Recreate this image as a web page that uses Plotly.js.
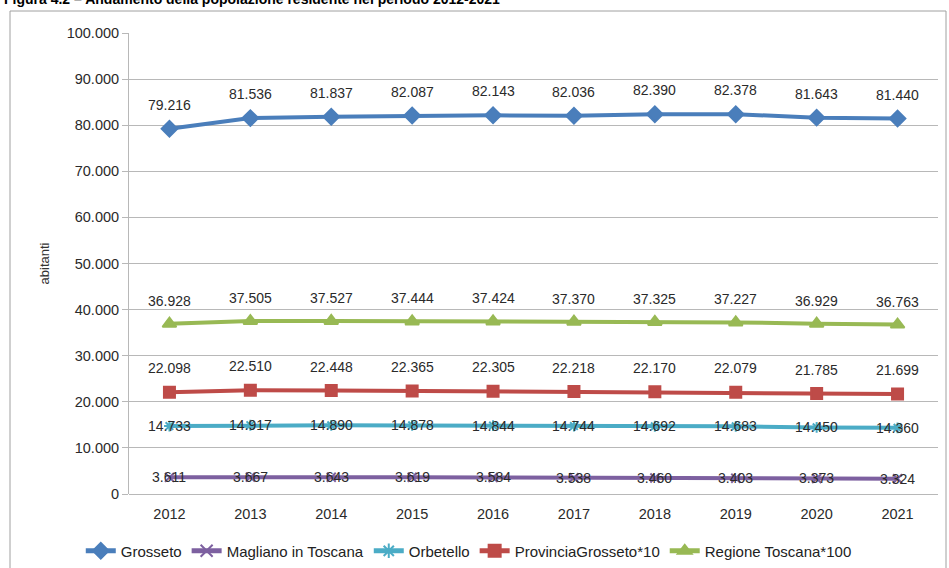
<!DOCTYPE html>
<html><head><meta charset="utf-8">
<script src="https://cdn.plot.ly/plotly-3.0.1.min.js"></script>
<style>html,body{margin:0;padding:0;background:#fff;}#chart{width:949px;height:568px;}</style>
</head><body><div id="chart"></div>
<script>
const years = ['2012','2013','2014','2015','2016','2017','2018','2019','2020','2021'];
const grosseto = [79216,81536,81837,82087,82143,82036,82390,82378,81643,81440];
const magliano = [3611,3667,3643,3619,3584,3538,3460,3403,3373,3324];
const orbetello = [14733,14917,14890,14878,14844,14744,14692,14683,14450,14360];
const provincia = [22098,22510,22448,22365,22305,22218,22170,22079,21785,21699];
const regione = [36928,37505,37527,37444,37424,37370,37325,37227,36929,36763];
const yTicks = [0,10000,20000,30000,40000,50000,60000,70000,80000,90000,100000];

function fmt(v){ return v.toString().replace(/\B(?=(\d{3})+(?!\d))/g,'.'); }

const series = [
  {name:'Grosseto', y:grosseto, color:'#4A7EBB', symbol:'diamond', size:12, width:4, shift:24},
  {name:'Magliano in Toscana', y:magliano, color:'#7D60A0', symbol:'x-thin-open', size:9, width:4, shift:0},
  {name:'Orbetello', y:orbetello, color:'#4BACC6', symbol:'asterisk-open', size:9, width:4, shift:0},
  {name:'ProvinciaGrosseto*10', y:provincia, color:'#BE4B48', symbol:'square', size:11, width:4, shift:24},
  {name:'Regione Toscana*100', y:regione, color:'#98B954', symbol:'triangle-up', size:12, width:4, shift:23}
];

const traces = series.map(s => ({
  type:'scatter', mode:'lines+markers', name:s.name, x:years, y:s.y,
  line:{color:s.color, width:s.width},
  marker:{color:s.color, symbol:s.symbol, size:s.size, line:{color:s.color, width:2}}
}));

const annotations = [];
series.forEach(s => {
  s.y.forEach((v,i) => {
    annotations.push({x:i, y:v, xref:'x', yref:'y', text:fmt(v), showarrow:false,
      yshift:s.shift, font:{family:'Liberation Sans, Arial, sans-serif', size:14, color:'#2a2a2a'}});
  });
});
annotations.push({xref:'paper', yref:'paper', x:-127/809, y:(494+1)/461, xanchor:'left', yanchor:'middle',
  text:'<b>Figura 4.2 – Andamento della popolazione residente nel periodo 2012-2021</b>', showarrow:false,
  font:{family:'Liberation Sans, Arial, sans-serif', size:14, color:'#000'}});

const layout = {
  width:949, height:568,
  margin:{l:129, r:11, t:33, b:74, autoexpand:false},
  paper_bgcolor:'#fff', plot_bgcolor:'#fff',
  font:{family:'Liberation Sans, Arial, sans-serif', size:13, color:'#333'},
  showlegend:true,
  legend:{orientation:'h', x:0.42, xanchor:'center', y:-0.088, yanchor:'top', itemsizing:'constant',
    font:{size:15, color:'#222'}, itemwidth:30, tracegroupgap:0},
  xaxis:{type:'category', range:[-0.5, years.length-0.5], showgrid:false, zeroline:false, showline:false, ticks:'',
    automargin:false, ticklabelstandoff:9, tickfont:{size:14.5, color:'#2a2a2a'}, fixedrange:true},
  yaxis:{range:[0,100000], tickvals:yTicks, ticktext:yTicks.map(fmt), showgrid:true, automargin:false,
    gridcolor:'#b8b8b8', gridwidth:1, showline:true, linecolor:'#b8b8b8', ticks:'outside', ticklen:6,
    tickcolor:'#b8b8b8', zeroline:true, zerolinecolor:'#b8b8b8', tickfont:{size:14.5, color:'#2a2a2a'},
    title:{text:'abitanti', font:{size:13, color:'#333'}, standoff:14}},
  annotations:annotations,
  shapes:[{type:'rect', xref:'paper', yref:'paper', x0:-119/809, x1:(946-129)/809, y0:-80/461, y1:(494-11)/461,
    line:{color:'#a0a0a0', width:1}}]
};
Plotly.newPlot('chart', traces, layout, {displayModeBar:false, staticPlot:true});
</script></body></html>
